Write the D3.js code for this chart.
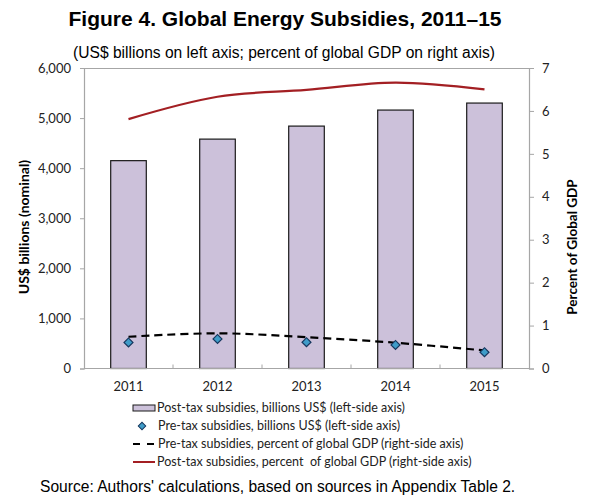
<!DOCTYPE html>
<html>
<head>
<meta charset="utf-8">
<script src="https://cdn.jsdelivr.net/npm/d3@7"></script>
<style>
  body { margin: 0; background: #fff; }
  svg { display: block; }
</style>
</head>
<body>
<svg id="chart" width="600" height="502"></svg>
<script>
// values
const years = ['2011', '2012', '2013', '2014', '2015'];
const postTaxBillions = [4150, 4580, 4840, 5160, 5300];
const preTaxBillions = [520, 590, 525, 470, 325];
const preTaxPctGdp = [0.74, 0.82, 0.73, 0.60, 0.42];
const postTaxPctGdp = [5.81, 6.33, 6.49, 6.66, 6.50];
const leftTicks = [0, 1000, 2000, 3000, 4000, 5000, 6000];
const rightTicks = [0, 1, 2, 3, 4, 5, 6, 7];
const legendLabels = [
	'Post-tax subsidies, billions US$ (left-side axis)',
	'Pre-tax subsidies, billions US$ (left-side axis)',
	'Pre-tax subsidies, percent of global GDP (right-side axis)',
	'Post-tax subsidies, percent\u00a0 of global GDP (right-side axis)'
];

const svg = d3.select('#chart');
const plot = { left: 84, right: 529, top: 68, bottom: 368.5 };
const axisColor = '#a6a6a6';
const uiFont = 'Lato, "Open Sans", sans-serif';
const arial = '"Liberation Sans", Arial, sans-serif';

const x = d3.scaleBand().domain(years).range([plot.left, plot.right]).paddingInner(0.6).paddingOuter(0.3);
const xCenter = d => x(d) + x.bandwidth() / 2;
const yLeft = d3.scaleLinear().domain([0, 6000]).range([plot.bottom, plot.top]);
const yRight = d3.scaleLinear().domain([0, 7]).range([plot.bottom, plot.top]);

// titles
svg.append('text')
	.attr('x', 285).attr('y', 26)
	.attr('text-anchor', 'middle')
	.style('font-family', arial)
	.style('font-weight', 'bold')
	.style('font-size', '21px')
	.text('Figure 4. Global Energy Subsidies, 2011–15');

svg.append('text')
	.attr('x', 284).attr('y', 58)
	.attr('text-anchor', 'middle')
	.style('font-family', arial)
	.style('font-size', '15.6px')
	.text('(US$ billions on left axis; percent of global GDP on right axis)');

// plot frame (top line)
svg.append('line')
	.attr('x1', plot.left).attr('x2', plot.right)
	.attr('y1', plot.top + 0.5).attr('y2', plot.top + 0.5)
	.attr('stroke', axisColor);

// bars
svg.append('g').selectAll('rect').data(years).join('rect')
	.attr('x', d => x(d))
	.attr('y', (d, i) => yLeft(postTaxBillions[i]))
	.attr('width', x.bandwidth())
	.attr('height', (d, i) => yLeft(0) - yLeft(postTaxBillions[i]))
	.attr('fill', '#ccc1da')
	.attr('stroke', '#1a1a1a')
	.attr('stroke-width', 1.2);

// axes
const leftAxis = svg.append('g')
	.attr('transform', `translate(${plot.left},0)`)
	.call(d3.axisLeft(yLeft).tickValues(leftTicks).tickSize(4).tickPadding(9).tickFormat(d3.format(',')));

const rightAxis = svg.append('g')
	.attr('transform', `translate(${plot.right},0)`)
	.call(d3.axisRight(yRight).tickValues(rightTicks).tickSize(5).tickPadding(8).tickFormat(d3.format('d')));

const bottomAxis = svg.append('g')
	.attr('transform', `translate(0,${plot.bottom})`)
	.call(d3.axisBottom(x).tickSize(0).tickPadding(13));

// category boundary ticks pointing up into the plot
svg.append('g').selectAll('line').data(d3.range(1, years.length)).join('line')
	.attr('x1', i => x(years[i]) - x.step() * x.paddingInner() / 2)
	.attr('x2', i => x(years[i]) - x.step() * x.paddingInner() / 2)
	.attr('y1', plot.bottom).attr('y2', plot.bottom - 4)
	.attr('stroke', axisColor);

[leftAxis, rightAxis, bottomAxis].forEach(a => {
	a.select('.domain').attr('stroke', axisColor).attr('stroke-width', 1.2);
	a.selectAll('.tick line').attr('stroke', axisColor);
	a.selectAll('.tick text')
		.style('font-family', uiFont)
		.style('font-size', '13px')
		.attr('fill', '#222');
});
bottomAxis.select('.domain').attr('d', `M${plot.left},0H${plot.right}`);

// axis titles
svg.append('text')
	.attr('transform', 'translate(29,227) rotate(-90)')
	.attr('text-anchor', 'middle')
	.style('font-family', uiFont)
	.style('font-weight', 'bold')
	.style('font-size', '14px')
	.text('US$ billions (nominal)');

svg.append('text')
	.attr('transform', 'translate(577,247) rotate(-90)')
	.attr('text-anchor', 'middle')
	.style('font-family', uiFont)
	.style('font-weight', 'bold')
	.style('font-size', '13.5px')
	.text('Percent of Global GDP');

// lines
const smooth = d3.curveCatmullRom.alpha(0.5);
const lineGen = (scale) => d3.line()
	.x((d, i) => xCenter(years[i]))
	.y(d => scale(d))
	.curve(smooth);

svg.append('path')
	.datum(postTaxPctGdp)
	.attr('d', lineGen(yRight))
	.attr('fill', 'none')
	.attr('stroke', '#a31f23')
	.attr('stroke-width', 2.2);

svg.append('path')
	.datum(preTaxPctGdp)
	.attr('d', lineGen(yRight))
	.attr('fill', 'none')
	.attr('stroke', '#000')
	.attr('stroke-width', 2.2)
	.attr('stroke-dasharray', '8,5');

// diamonds
const diamond = d3.symbol().type(d3.symbolSquare).size(40);
svg.append('g').selectAll('path').data(preTaxBillions).join('path')
	.attr('d', diamond)
	.attr('transform', (d, i) => `translate(${xCenter(years[i])},${yLeft(d)}) rotate(45)`)
	.attr('fill', '#3f9cc8')
	.attr('stroke', '#17375e')
	.attr('stroke-width', 1.2);

// legend
const legendX = 133;
const legendTextX = 157;
const legendY = d3.scaleLinear().domain([0, 3]).range([408, 462]);
const legend = svg.append('g');

legend.append('rect')
	.attr('x', legendX).attr('y', legendY(0) - 3)
	.attr('width', 22).attr('height', 6)
	.attr('fill', '#ccc1da').attr('stroke', '#1a1a1a');

legend.append('path')
	.attr('d', d3.symbol().type(d3.symbolSquare).size(28))
	.attr('transform', `translate(${legendX + 9},${legendY(1)}) rotate(45)`)
	.attr('fill', '#3f9cc8').attr('stroke', '#17375e');

legend.append('line')
	.attr('x1', legendX).attr('x2', legendX + 21)
	.attr('y1', legendY(2)).attr('y2', legendY(2))
	.attr('stroke', '#000').attr('stroke-width', 2).attr('stroke-dasharray', '7,7');

legend.append('line')
	.attr('x1', legendX).attr('x2', legendX + 22)
	.attr('y1', legendY(3)).attr('y2', legendY(3))
	.attr('stroke', '#a31f23').attr('stroke-width', 2);

legend.selectAll('text').data(legendLabels).join('text')
	.attr('x', (d, i) => i === 1 || i === 2 ? legendTextX + 1 : legendTextX)
	.attr('y', (d, i) => legendY(i))
	.attr('dy', '0.35em')
	.style('font-family', uiFont)
	.style('font-size', '12.5px')
	.attr('fill', '#222')
	.text(d => d);

// source
svg.append('text')
	.attr('x', 40).attr('y', 492)
	.style('font-family', arial)
	.style('font-size', '15.6px')
	.text("Source: Authors' calculations, based on sources in Appendix Table 2.");
</script>
</body>
</html>
